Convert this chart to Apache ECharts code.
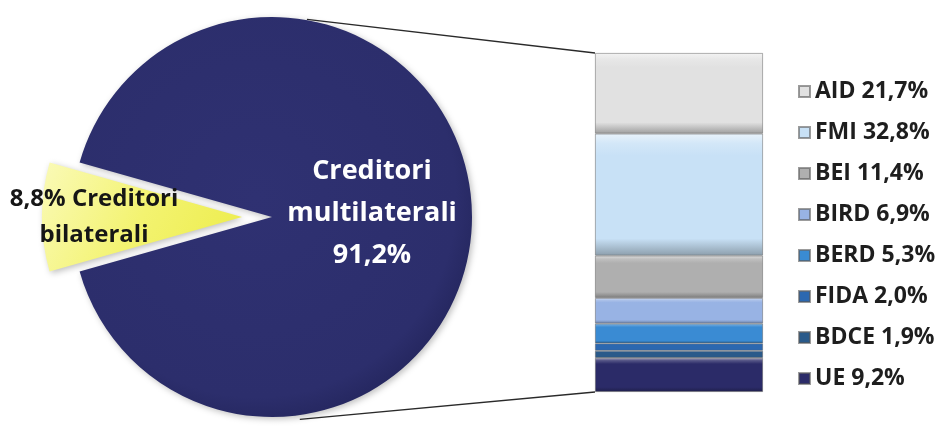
<!DOCTYPE html>
<html>
<head>
<meta charset="utf-8">
<script src="https://cdn.jsdelivr.net/npm/echarts@6/dist/echarts.min.js"></script>
<style>
  html, body { margin: 0; padding: 0; background: #fff; }
  #main { width: 944px; height: 426px; }
</style>
</head>
<body>
<div id="main"></div>
<script>
// pie: share of creditors
const pieNames = ['Creditori multilaterali', 'Creditori bilaterali']
const pieValues = [91.2, 8.8]

// bar of pie: breakdown of multilateral creditors, bottom to top
const barNames = ['UE', 'BDCE', 'FIDA', 'BERD', 'BIRD', 'BEI', 'FMI', 'AID']
const barValues = [9.2, 1.9, 2.0, 5.3, 6.9, 11.4, 32.8, 21.7]
const barColors = ['#2b2b68', '#2a5a8a', '#2c68b0', '#3a8bd3', '#98b3e4', '#afafaf', '#c8e1f6', '#e1e1e1']

// layout
const W = 944, H = 426
const pieCenter = [272, 217]
const pieRadius = 200
const explode = 30
const grid = { left: 595, right: W - 763, top: 53, bottom: H - 392 }

const pct = v => v.toFixed(1).replace('.', ',') + '%'

function mix(hex, target, t) {
  const a = parseInt(hex.slice(1), 16)
  const r = (a >> 16) & 255, g = (a >> 8) & 255, b = a & 255
  const m = c => Math.round(c + (target - c) * t)
  return 'rgb(' + m(r) + ',' + m(g) + ',' + m(b) + ')'
}

function bevel(c) {
  return {
    type: 'linear', x: 0, y: 0, x2: 0, y2: 1,
    colorStops: [
      { offset: 0, color: mix(c, 255, 0.6) },
      { offset: 0.08, color: mix(c, 255, 0.2) },
      { offset: 0.18, color: c },
      { offset: 0.86, color: c },
      { offset: 1, color: mix(c, 0, 0.3) }
    ]
  }
}

// tangent point from an outside point to the pie circle
function tangent(p, upper) {
  const dx = p[0] - pieCenter[0], dy = p[1] - pieCenter[1]
  const d = Math.sqrt(dx * dx + dy * dy)
  const base = Math.atan2(dy, dx)
  const off = Math.acos(pieRadius / d)
  const a = upper ? base - off : base + off
  return [pieCenter[0] + pieRadius * Math.cos(a), pieCenter[1] + pieRadius * Math.sin(a)]
}

const barTop = [grid.left, grid.top]
const barBottom = [grid.left, H - grid.bottom]
const t1 = tangent(barTop, true)
const t2 = tangent(barBottom, false)

const total = pieValues.reduce((s, v) => s + v, 0)
const startAngle = 180 - (pieValues[1] / total) * 360 / 2

var chart = echarts.init(document.getElementById('main'))

const barSeries = barNames.map((n, i) => ({
  name: n,
  type: 'bar',
  stack: 'multi',
  barWidth: '100%',
  data: [barValues[i]],
  itemStyle: {
    color: bevel(barColors[i]),
    borderColor: 'rgba(90,90,90,0.6)',
    borderWidth: 0.8
  },
  emphasis: { disabled: true }
}))

const option = {
  animation: false,
  backgroundColor: '#fff',
  grid: grid,
  xAxis: { type: 'category', data: ['multi'], show: false },
  yAxis: { type: 'value', min: 0, max: barValues.reduce((s, v) => s + v, 0), show: false },
  legend: {
    orient: 'vertical',
    left: 793,
    top: 74,
    itemWidth: 11,
    itemHeight: 11,
    itemGap: 16,
    icon: 'rect',
    selectedMode: false,
    data: barNames.slice().reverse(),
    formatter: n => n + ' ' + pct(barValues[barNames.indexOf(n)]),
    textStyle: {
      fontFamily: 'Open Sans',
      fontWeight: 'bold',
      fontSize: 23,
      lineHeight: 25,
      color: '#1e1e1e'
    }
  },
  graphic: [
    { type: 'line', z: 0, shape: { x1: t1[0] + 12, y1: t1[1] + 1, x2: barTop[0], y2: barTop[1] },
      style: { stroke: '#2a2a2a', lineWidth: 1.3 } },
    { type: 'line', z: 0, shape: { x1: t2[0] + 12, y1: t2[1] + 3, x2: barBottom[0], y2: barBottom[1] },
      style: { stroke: '#2a2a2a', lineWidth: 1.3 } }
  ],
  series: [
    {
      type: 'pie',
      center: pieCenter,
      radius: pieRadius,
      startAngle: startAngle,
      clockwise: true,
      selectedMode: 'single',
      selectedOffset: explode,
      emphasis: { disabled: true },
      z: 3,
      data: pieNames.map((n, i) => ({
        name: n,
        value: pieValues[i],
        selected: i === 1,
        itemStyle: {
          color: i === 0
            ? { type: 'radial', x: 0.45, y: 0.45, r: 0.6,
                colorStops: [{ offset: 0, color: '#2f3172' }, { offset: 0.85, color: '#2c2e6c' }, { offset: 1, color: '#23255c' }] }
            : { type: 'linear', x: 0, y: 0, x2: 1, y2: 1,
                colorStops: [{ offset: 0, color: '#fafab8' }, { offset: 0.5, color: '#f3f370' }, { offset: 1, color: '#ecec48' }] },
          shadowBlur: 6,
          shadowColor: 'rgba(0,0,0,0.25)',
          shadowOffsetX: 2,
          shadowOffsetY: 2
        },
        label: i === 0
          ? { color: '#fff', fontSize: 27, lineHeight: 42 }
          : { color: '#161616', fontSize: 24, lineHeight: 36 }
      })),
      label: {
        show: true,
        position: 'inside',
        fontFamily: 'Open Sans',
        fontWeight: 'bold',
        formatter: p => p.dataIndex === 0
          ? p.name.replace(' ', '\n') + '\n' + pct(p.value)
          : pct(p.value) + ' ' + p.name.replace(' ', '\n')
      },
      labelLayout: p => p.dataIndex === 0 ? { dx: -3, dy: -4 } : { dx: -45, dy: 0 },
      labelLine: { show: false }
    }
  ].concat(barSeries)
}

chart.setOption(option)
</script>
</body>
</html>
